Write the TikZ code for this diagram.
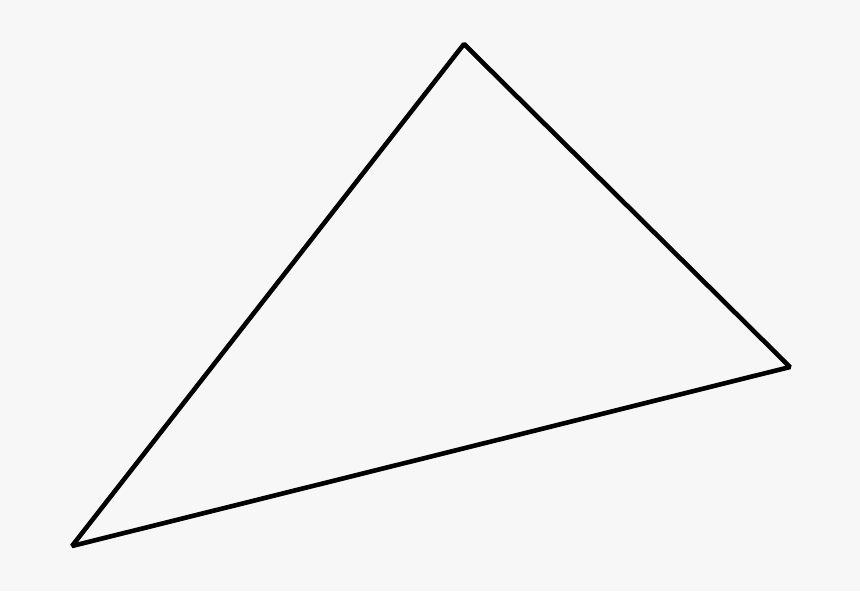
\documentclass[tikz,border=0pt]{standalone}
\usepackage{tikz}
\definecolor{paper_gray}{RGB}{247,247,247}

\begin{document}
\begin{tikzpicture}[x=0.5pt,y=-0.5pt]

                    \fill[paper_gray] (0,0) rectangle (860,591);
                    \useasboundingbox (0,0) rectangle (860,591);

                    \coordinate (top) at (464,44);
                    \coordinate (right) at (790,367);
                    \coordinate (left) at (72,546);

                    \draw[line width=2.3pt,line join=bevel] (top) -- (right) -- (left) -- cycle;
                \end{tikzpicture}
\end{document}
